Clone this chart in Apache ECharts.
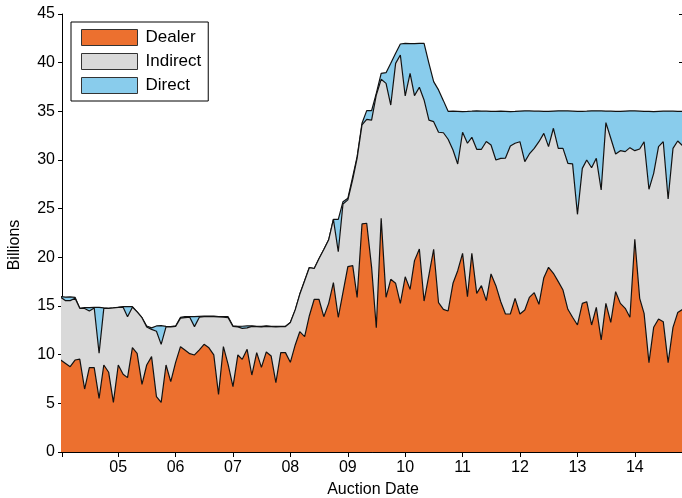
<!DOCTYPE html>
<html>
<head>
<meta charset="utf-8">
<script src="https://cdn.jsdelivr.net/npm/echarts@6/dist/echarts.min.js"></script>
<style>html,body{margin:0;padding:0;background:#fff}#chart{width:682px;height:498px}</style>
</head>
<body>
<div id="chart"></div>
<script>
// ---- data (billions), one point per monthly auction starting Jan 2004 ----
const firstYear = 2004;
const firstMonth = 1;
const seriesNames = ['Dealer', 'Indirect', 'Direct'];

// top of the Dealer band
const dealerTop = [
 9.45,9.1,8.77,9.45,9.55,6.47,8.67,8.67,5.51,8.94,
 8.19,5.1,8.94,7.98,7.64,10.72,10.14,6.95,8.94,9.8,
 5.69,5.1,8.94,7.23,9.21,10.82,10.48,10.1,9.97,10.5,
 11.06,10.7,9.97,5.92,10.82,9.0,6.71,9.97,9.52,10.55,
 7.91,10.21,8.7,10.28,9.86,7.12,10.21,10.21,9.21,11.0,
 12.36,11.85,14.0,15.69,15.69,13.9,15.27,17.4,13.84,16.4,
 19.04,19.14,15.89,23.43,23.5,19.0,12.77,24.0,15.89,17.74,
 17.33,15.27,18.0,16.71,19.66,20.86,15.51,18.2,20.83,15.34,
 14.66,14.49,17.33,18.63,20.41,15.96,20.41,16.3,17.09,15.55,
 18.29,17.09,15.44,14.18,14.18,15.79,14.18,14.59,15.89,16.37,
 15.17,17.91,18.98,18.36,17.5,16.64,14.66,13.84,13.05,15.27,
 15.44,13.05,14.86,11.51,15.27,13.32,16.47,15.27,14.76,13.84,
 21.85,15.79,14.25,9.18,12.81,13.66,13.39,9.18,12.81,14.32,
 14.66
];
// top of the Indirect band (Dealer + Indirect)
const indirectTop = [
 15.9,15.55,15.55,15.8,14.76,14.75,14.49,14.8,10.14,14.75,
 14.76,14.8,14.86,14.88,13.9,14.88,14.4,13.8,12.85,12.6,
 12.4,11.06,12.85,12.85,12.9,13.75,13.8,13.85,12.88,13.85,
 13.9,13.9,13.9,13.88,13.85,13.8,12.9,12.85,12.7,12.75,
 12.9,12.88,12.85,12.9,12.88,12.85,12.88,12.88,13.3,14.6,
 16.2,17.6,18.95,18.85,19.85,20.8,21.8,23.9,20.58,25.48,
 25.9,28.0,30.2,33.6,34.18,34.1,36.68,38.29,37.87,35.65,
 39.93,40.79,36.58,38.9,36.61,37.47,36.17,34.1,33.94,32.85,
 32.8,32.13,31.03,29.59,32.85,31.72,32.33,31.1,31.1,31.9,
 31.54,30.0,30.17,30.2,31.44,31.72,31.88,29.83,30.62,31.2,
 31.88,32.74,31.37,33.26,31.2,31.2,29.66,29.6,24.42,29.14,
 30.0,29.2,30.17,26.92,33.84,32.23,30.62,30.96,30.86,31.27,
 30.96,31.13,31.88,26.99,28.63,31.37,31.88,25.99,31.2,31.95,
 31.47
];
// top of the Direct band (total accepted)
const directTop = [
 15.96,15.92,15.93,15.89,14.76,14.83,14.83,14.86,14.86,14.8,
 14.76,14.8,14.86,14.93,14.93,14.93,14.4,13.8,12.95,12.75,
 12.95,12.98,12.9,12.88,12.95,13.84,13.9,13.92,13.9,13.93,
 13.95,13.95,13.95,13.92,13.9,13.9,12.95,12.9,12.92,12.95,
 12.95,12.92,12.9,12.95,12.92,12.9,12.92,12.92,13.3,14.6,
 16.2,17.6,18.95,18.85,19.85,20.8,21.8,23.9,23.9,25.72,
 26.06,28.29,30.34,33.77,35.07,35.07,36.85,38.9,38.97,39.93,
 40.96,41.92,41.99,41.95,41.95,41.99,41.99,39.93,38.05,37.2,
 36.1,35.0,35.02,35.0,34.98,35.0,35.02,35.05,35.03,35.02,
 35.0,35.0,35.02,35.0,34.98,35.0,35.03,35.05,35.04,35.02,
 35.02,35.0,35.0,35.03,35.05,35.05,35.04,35.02,35.0,35.0,
 35.02,35.05,35.05,35.04,35.03,35.02,35.0,35.0,35.03,35.05,
 35.04,35.02,35.0,35.0,34.98,35.0,35.02,35.03,35.02,35.0,
 35.0
];
const yTickValues = [0,5,10,15,20,25,30,35,40,45];

// ---- derived ----
const auctionDates = dealerTop.map((_, i) => Date.UTC(firstYear, firstMonth - 1 + i, 1));
const dealer = dealerTop.slice();
const indirect = indirectTop.map((v, i) => Math.max(0, v - dealerTop[i]));
const direct = directTop.map((v, i) => Math.max(0, v - indirectTop[i]));
const values = [dealer, indirect, direct];

const colors = ['#EC702F', '#D9D9D9', '#89CCEC'];
const FONT = '"Liberation Sans", Arial, Helvetica, sans-serif';
const xMin = Date.UTC(2004, 0, 9);
const xMax = Date.UTC(2014, 10, 10);
const YEAR = 365 * 24 * 3600 * 1000;

function yearLabel(v) {
  const d = new Date(v);
  if (d.getUTCMonth() === 0 && d.getUTCDate() === 1) {
    return String(d.getUTCFullYear()).slice(2);
  }
  return '';
}

const chart = echarts.init(document.getElementById('chart'), null, {renderer: 'canvas'});
const option = {
  animation: false,
  useUTC: true,
  backgroundColor: '#fff',
  textStyle: {fontFamily: FONT},
  grid: {left: 62, right: -2, top: 14, bottom: 46, containLabel: false, outerBoundsMode: 'none'},
  legend: {
    orient: 'vertical',
    left: 71, top: 22,
    padding: [7, 7, 7, 10],
    itemWidth: 56, itemHeight: 16, itemGap: 7,
    backgroundColor: '#fff',
    borderColor: '#000', borderWidth: 1,
    textStyle: {fontFamily: FONT, fontSize: 17, lineHeight: 16, color: '#000', padding: [0, 0, 0, 3]},
    data: seriesNames.map((n, k) => ({
      name: n, icon: 'rect',
      itemStyle: {color: colors[k], borderColor: '#333', borderWidth: 1}
    }))
  },
  graphic: [{
    type: 'text', x: 15, y: 245, rotation: Math.PI / 2, z: 10,
    style: {text: 'Billions', fontFamily: FONT, fontSize: 16, fill: '#000',
            align: 'center', verticalAlign: 'middle'}
  }],
  xAxis: [
    {
      type: 'time', min: xMin, max: xMax, position: 'bottom',
      splitNumber: 10, minInterval: YEAR, maxInterval: YEAR * 1.01,
      name: 'Auction Date', nameLocation: 'middle', nameGap: 30,
      nameTextStyle: {fontFamily: FONT, fontSize: 16, color: '#000'},
      axisLine: {show: true, lineStyle: {color: '#000', width: 1}},
      axisTick: {show: true, inside: true, length: 5, lineStyle: {color: '#000'}},
      axisLabel: {formatter: yearLabel, fontFamily: FONT, fontSize: 16, color: '#000', margin: 8,
                  showMinLabel: false, showMaxLabel: false, hideOverlap: false},
      splitLine: {show: false}
    },
    {
      type: 'time', min: xMin, max: xMax, position: 'top',
      splitNumber: 10, minInterval: YEAR, maxInterval: YEAR * 1.01,
      axisLine: {show: true, lineStyle: {color: '#000', width: 1}},
      axisTick: {show: true, inside: true, length: 5, lineStyle: {color: '#000'}},
      axisLabel: {show: false},
      splitLine: {show: false}
    }
  ],
  yAxis: [
    {
      type: 'value', min: yTickValues[0], max: yTickValues[yTickValues.length - 1], interval: 5,
      position: 'left',
      axisLine: {show: true, lineStyle: {color: '#000', width: 1}},
      axisTick: {show: true, inside: false, length: 4, lineStyle: {color: '#000'}},
      axisLabel: {fontFamily: FONT, fontSize: 16, color: '#000', margin: 7},
      splitLine: {show: false}
    },
    {
      type: 'value', min: 0, max: 45, interval: 5, position: 'right',
      axisLine: {show: true, lineStyle: {color: '#000', width: 1}},
      axisTick: {show: true, inside: true, length: 5, lineStyle: {color: '#000'}},
      axisLabel: {show: false},
      splitLine: {show: false}
    }
  ],
  series: seriesNames.map((n, k) => ({
    name: n,
    type: 'line',
    stack: 'total',
    xAxisIndex: 0, yAxisIndex: 0,
    z: 5 - k,
    data: auctionDates.map((d, i) => [d, values[k][i]]),
    symbol: 'none', showSymbol: false,
    color: colors[k],
    itemStyle: {color: colors[k]},
    lineStyle: {color: '#111', width: 1.2},
    areaStyle: {color: colors[k], opacity: 1},
    emphasis: {disabled: true},
    silent: true
  }))
};
chart.setOption(option);
</script>
</body>
</html>
